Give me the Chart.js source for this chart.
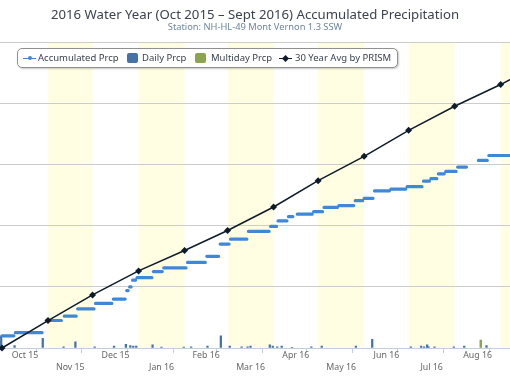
<!DOCTYPE html>
<html>
<head>
<meta charset="utf-8">
<script src="https://cdn.jsdelivr.net/npm/chart.js@4/dist/chart.umd.min.js"></script>
<style>
html,body{margin:0;padding:0;background:#fff;}
#wrap{position:relative;width:510px;height:382px;overflow:hidden;}
canvas{display:block;}
#legend{position:absolute;left:17px;top:48px;width:381px;height:20px;box-sizing:border-box;border:1px solid #909090;border-radius:5px;background:#fff;box-shadow:1px 1px 2px rgba(0,0,0,0.22);font-family:'Noto Sans',sans-serif;font-size:9.5px;color:#3a4250;}
#legend .txt{position:absolute;top:0;line-height:18px;white-space:nowrap;}
#legend .sq{position:absolute;top:4px;width:11px;height:10px;border-radius:2px;}
#legend .ln{position:absolute;top:8.5px;width:13px;height:1px;}
#legend .dot{position:absolute;top:7px;width:4px;height:4px;border-radius:50%;}
#legend .dia{position:absolute;top:6.5px;width:5px;height:5px;transform:rotate(45deg);}
</style>
</head>
<body>
<div id="wrap">
<canvas id="c" width="510" height="382"></canvas>
<div id="legend">
  <span class="ln" style="left:5px;background:#3f88d8;"></span><span class="dot" style="left:9.5px;background:#3f88d8;"></span>
  <span class="txt" style="left:20px;">Accumulated Prcp</span>
  <span class="sq" style="left:109px;background:#4572A7;"></span>
  <span class="txt" style="left:124px;">Daily Prcp</span>
  <span class="sq" style="left:177px;background:#89A54E;"></span>
  <span class="txt" style="left:193px;">Multiday Prcp</span>
  <span class="ln" style="left:261px;background:#0d1b2a;"></span><span class="dia" style="left:265px;background:#0d1b2a;"></span>
  <span class="txt" style="left:277px;">30 Year Avg by PRISM</span>
</div>
</div>
<script>
// Day index: 0 = Oct 1 2015
const monthStartDays = [0, 31, 61, 92, 123, 152, 183, 213, 244, 274, 305, 336, 366];
const monthLabels = ['Oct 15', 'Nov 15', 'Dec 15', 'Jan 16', 'Feb 16', 'Mar 16', 'Apr 16', 'May 16', 'Jun 16', 'Jul 16', 'Aug 16', 'Sep 16'];
const bandStartDays = [31, 92, 152, 213, 274, 336];
const bandEndDays = [61, 123, 183, 244, 305, 366];

// 30 year average (PRISM), inches, at month starts
const avgDays = [0, 31, 61, 92, 123, 152, 183, 213, 244, 274, 305, 336, 366];
const avgValues = [0, 4.48, 8.69, 12.62, 15.95, 19.23, 23.07, 27.38, 31.36, 35.62, 39.56, 43.11, 46.9];

// Accumulated precipitation plateaus (inches)
const accumStartDays = [0, 9, 30, 42, 51, 63, 75, 84, 86, 88, 91, 102, 109, 125, 138, 147, 154, 166, 181, 186, 193, 199, 210, 217, 227, 238, 244, 251, 262, 273, 284, 289, 294, 299, 307, 321, 328];
const accumEndDays = [8, 27, 40, 50, 62, 74, 83, 85, 87, 90, 101, 108, 124, 137, 146, 153, 165, 180, 185, 192, 196, 209, 216, 226, 237, 243, 250, 261, 272, 283, 288, 293, 298, 306, 313, 327, 345];
const accumValues = [2.0, 2.5, 4.5, 5.2, 6.4, 7.3, 8.0, 9.4, 10.0, 11.1, 11.5, 12.5, 13.1, 14.0, 15.0, 17.0, 17.8, 19.1, 19.9, 20.8, 21.5, 21.9, 22.3, 23.0, 23.3, 24.1, 24.5, 25.7, 26.0, 26.4, 27.3, 27.7, 28.5, 28.9, 29.6, 30.7, 31.5];

// Daily precipitation (inches)
const dailyDays = [0, 9, 28, 42, 50, 63, 76, 84, 87, 89, 91, 102, 108, 123, 128, 139, 148, 154, 162, 166, 168, 181, 183, 186, 189, 196, 209, 216, 239, 250, 276, 283, 285, 287, 288, 292, 305, 312, 327];
const dailyValues = [2.0, 0.4, 1.6, 0.2, 1.0, 0.2, 0.3, 0.6, 0.4, 0.3, 0.3, 0.5, 0.15, 0.15, 0.2, 0.3, 2.0, 0.3, 0.2, 0.2, 0.3, 0.5, 0.3, 0.2, 0.3, 0.1, 0.2, 0.3, 0.3, 1.4, 0.2, 0.3, 0.2, 0.5, 0.2, 0.2, 0.2, 0.3, 0.4];

// Multiday precipitation (inches)
const multiDays = [322];
const multiValues = [1.3];

const FONT = "'Noto Sans', sans-serif";
const X_MIN = -1.35, X_MAX = 342.3;

function plateauData() {
  const out = [];
  for (let i = 0; i < accumValues.length; i++) {
    out.push({x: accumStartDays[i], y: accumValues[i]});
    out.push({x: accumEndDays[i], y: accumValues[i]});
    out.push({x: accumEndDays[i] + 0.5, y: null});
  }
  return out;
}
const pairs = (xs, ys) => xs.map((x, i) => ({x: x, y: ys[i]}));

const midDays = monthLabels.map((l, i) => (monthStartDays[i] + monthStartDays[i + 1]) / 2);
const tickVals = monthStartDays.concat(midDays).filter(v => v >= X_MIN && v <= X_MAX).sort((a, b) => a - b);

const bandsPlugin = {
  id: 'bands',
  beforeDraw(chart) {
    const {ctx, chartArea: a, scales: {x}} = chart;
    ctx.save();
    ctx.beginPath();
    ctx.rect(a.left, a.top, a.right - a.left, a.bottom - a.top);
    ctx.clip();
    ctx.fillStyle = '#FFFEE2';
    for (let i = 0; i < bandStartDays.length; i++) {
      const x0 = x.getPixelForValue(bandStartDays[i]);
      const x1 = x.getPixelForValue(bandEndDays[i]);
      ctx.fillRect(x0, a.top, x1 - x0, a.bottom - a.top);
    }
    ctx.restore();
  }
};

new Chart(document.getElementById('c'), {
  type: 'line',
  data: {
    datasets: [
      {
        label: '30 Year Avg by PRISM',
        data: pairs(avgDays, avgValues),
        borderColor: '#0d1b2a',
        backgroundColor: '#0d1b2a',
        borderWidth: 1.5,
        pointStyle: 'rectRot',
        pointRadius: 3.5,
        pointBorderWidth: 0,
        order: 1,
        clip: false
      },
      {
        label: 'Accumulated Prcp',
        data: plateauData(),
        borderColor: '#3f88d8',
        backgroundColor: '#3f88d8',
        borderWidth: 3.2,
        borderCapStyle: 'round',
        pointRadius: 0,
        spanGaps: false,
        order: 2
      },
      {
        type: 'bar',
        label: 'Daily Prcp',
        data: pairs(dailyDays, dailyValues),
        backgroundColor: '#4572A7',
        barThickness: 1.6,
        order: 3
      },
      {
        type: 'bar',
        label: 'Multiday Prcp',
        data: pairs(multiDays, multiValues),
        backgroundColor: '#89A54E',
        barThickness: 1.8,
        order: 4
      }
    ]
  },
  options: {
    responsive: false,
    animation: false,
    devicePixelRatio: 1,
    layout: {padding: 0, autoPadding: false},
    plugins: {
      legend: {display: false},
      tooltip: {enabled: false},
      title: {
        display: true,
        text: '2016 Water Year (Oct 2015 \u2013 Sept 2016) Accumulated Precipitation',
        color: '#3b4350',
        font: {family: FONT, size: 13.2, weight: 'normal', lineHeight: 1.2},
        padding: {top: 7, bottom: 0}
      },
      subtitle: {
        display: true,
        text: 'Station: NH-HL-49 Mont Vernon 1.3 SSW',
        color: '#6D869F',
        font: {family: FONT, size: 9.3, weight: 'normal', lineHeight: 1.0},
        padding: {top: 0, bottom: 10.3}
      }
    },
    scales: {
      x: {
        type: 'linear',
        min: X_MIN,
        max: X_MAX,
        offset: false,
        afterBuildTicks(scale) { scale.ticks = tickVals.map(v => ({value: v})); },
        afterFit(scale) { scale.height = 34; },
        ticks: {
          autoSkip: false,
          maxRotation: 0,
          minRotation: 0,
          padding: -3,
          color: '#666666',
          font: {family: FONT, size: 8.8, lineHeight: 1.33},
          callback(value) {
            const i = midDays.indexOf(value);
            if (i < 0) return '';
            return i % 2 === 0 ? [monthLabels[i], ''] : ['', monthLabels[i]];
          }
        },
        grid: {
          drawOnChartArea: false,
          tickLength: 5,
          tickWidth: 1,
          tickColor: ctx => (ctx.tick && monthStartDays.includes(ctx.tick.value)) ? '#C0D0E0' : 'rgba(0,0,0,0)'
        },
        border: {color: '#C0D0E0', width: 1}
      },
      y: {
        min: 0,
        max: 50,
        afterFit(scale) { scale.width = 0; },
        ticks: {display: false, stepSize: 10},
        grid: {color: '#CCCCCC', drawTicks: false, lineWidth: 1},
        border: {display: false}
      }
    }
  },
  plugins: [bandsPlugin]
});
</script>
</body>
</html>
